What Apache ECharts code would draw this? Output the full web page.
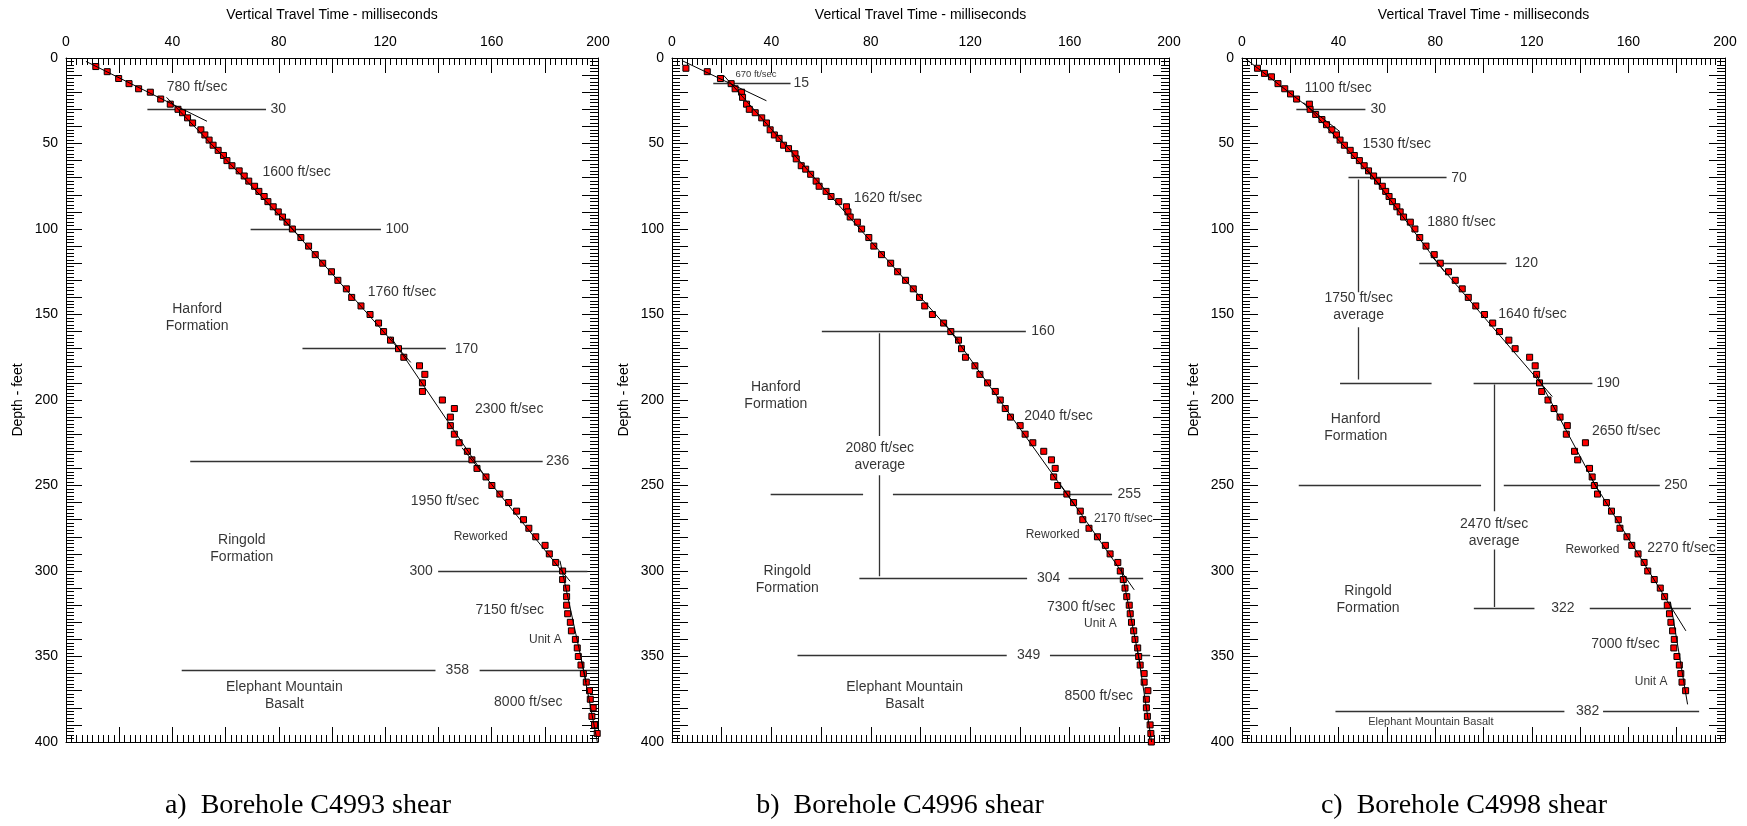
<!DOCTYPE html>
<html>
<head>
<meta charset="utf-8">
<script src="https://cdn.jsdelivr.net/npm/echarts@6.0.0/dist/echarts.min.js"></script>
<style>
html, body { margin: 0; padding: 0; background: #fff; }
#main { width: 1747px; height: 826px; }
</style>
</head>
<body>
<div id="main"></div>
<script>
// Borehole C4993 - depth (ft) and vertical travel time (ms)
var depthA = [5,8,12,15,18,20,24,27,30,32,35,38,42,45,48,51,54,57,60,63,66,69,72,75,78,81,84,87,90,93,96,100,
  105,110,115,120,125,130,135,140,145,150,155,160,165,170,175,180,185,190,195,200,205,210,215,220,225,230,235,240,
  245,250,255,260,265,270,275,280,285,290,295,300,305,310,315,320,325,330,335,340,345,350,355,360,365,370,375,380,
  385,390,395,400];
var timeA = [11.2,15.5,19.8,23.7,27.3,31.7,35.6,39.2,42.1,43.8,45.7,47.6,50.7,52.2,53.8,55.3,57.2,59.2,60.5,62.4,
  65.1,67,68.7,70.9,72.5,74.5,75.9,77.9,79.8,81.4,83.1,85.1,88.3,91.2,93.7,96.5,99.8,102.2,
  105.4,107.4,110.9,114.3,117.5,119.4,122,125,127,132.9,134.9,134,134,141.5,146,144.5,144.5,146,147.8,150.9,152.6,
  154.5,157.9,160.1,163.1,166.4,169.4,172,174,176.6,180.1,181.7,
  184.1,186.7,186.7,188.2,188.2,188.2,188.6,189.6,190,191.5,192.2,192.6,193.6,194.5,195.6,196.8,197.1,198.2,197.7,
  198.7,199.7,200.1];

// Borehole C4996
var depthB = [6,8,12,15,18,20,23,27,30,32,35,38,42,45,47,51,53,56,59,63,65,68,72,75,78,81,84,87,90,93,96,100,
  105,110,115,120,125,130,135,140,145,150,155,160,165,170,175,180,185,190,195,200,205,210,215,220,225,230,235,240,
  245,250,255,260,265,270,275,280,285,290,295,300,305,310,315,320,325,330,335,340,345,350,355,360,365,370,375,380,
  385,390,395,400];
var timeB = [5.6,14.2,19.5,23.8,25.4,28,28.4,30,31.1,33.5,36.1,38,39.5,41.2,43.1,44.9,46.9,49.5,50,52,53.8,55.8,
  58,59.2,62,64,67.1,70.2,70.8,71.7,74.6,76.3,79.2,81.2,84.3,88,90.8,
  94,97.1,99.6,101.7,104.8,109.3,112.2,115.3,116.5,118.1,121.9,123.9,127,130.1,132.1,134.1,136.2,140.1,142.1,145.2,
  149.6,152.7,154.2,153.6,155.2,158.9,161.6,164.3,165.3,167.8,171.2,174.4,176.3,
  179.4,180.4,181.6,182.3,183,184,184.4,184.9,185.8,186.3,187.4,187.8,188.4,190,190,191.5,190.9,190.9,191.3,192.4,
  192.7,192.9];

// Borehole C4998
var depthC = [6,9,11,15,18,21,24,27,30,33,36,39,42,45,48,51,54,57,60,63,66,69,72,75,78,81,84,87,90,93,96,100,
  105,110,115,120,125,130,135,140,145,150,155,160,165,170,175,180,185,190,195,200,205,210,215,220,225,230,235,240,
  245,250,255,260,265,270,275,280,285,290,295,300,305,310,315,320,325,330,335,340,345,350,355,360,365,370];
var timeC = [6.4,9.3,12.2,14.9,17.7,20.1,22.6,27.9,28.2,30.5,33.1,35,37.2,39.1,40.6,42.4,44.8,46.5,48.6,50.6,52.4,
  54.5,56.1,58.1,59.5,60.9,62.3,64.1,65.5,66.9,69.7,71.6,73.6,76.2,79.6,82.1,85.5,88.3,
  91.2,93.7,96.8,100.4,103.8,106.6,110.5,113.1,119.1,121.4,122,123.2,124.1,126.7,129.2,131.7,134.7,134.3,142.2,
  137.7,139,143.9,145,145.9,147.2,150.9,153,155.8,156.5,159.4,161.4,164,166.5,
  168,170.7,173.2,175,176.1,177,177.6,178.3,179,178.8,180.1,181.1,181.7,182.2,183.7];

// fitted velocity segments: [time0, depth0, time1, depth1]
var fitA = [[7.5,2,53,37],[37.8,23,88.2,105],[81.1,93,129.6,178],[122,163,156.8,243],
  [148.9,228,189.5,306],[185.7,294,195.6,365],[193.75,352,199.75,400]];
var fitB = [[4,1.5,38,25],[20.7,10,115.3,165],[109.7,155,162.3,262],[156.6,250,186,311],
  [180.7,298,188.6,356],[187.2,345,193,400]];
var fitC = [[1.5,0.5,40.5,43],[25.6,26,57.6,75],[51.8,65,83.8,125],[78,115,128.5,198],
  [121.9,185,148.3,255],[144.2,245,183.8,335],[177.4,318,184.5,378]];

// layer boundaries: [time from, time to, depth]
var boundA = [[30.6,75.2,30],[69.4,118.4,100],[88.9,142.8,170],[46.7,179.2,236],[139.9,196,300],
  [43.5,138.9,358],[155.5,199.7,358]];
var boundB = [[16.6,47.7,15],[60.3,142.4,160],[39.7,76.9,255],[88.9,177.1,255],[75.4,142.9,304],
  [159.6,189.6,304],[50.5,134.7,349],[152.1,192.4,349]];
var boundC = [[22.5,51.1,30],[44.1,84.7,70],[73.4,109.5,120],[40.6,78.5,190],[95.9,145.1,190],
  [23.5,99,250],[108.4,173,250],[96,121.1,322],[144,185.9,322],[38.7,133.5,382],[149.5,189.3,382]];

// average-velocity brackets: [time, depth from, depth to]
var vertA = [];
var vertB = [[83.6,161,221],[83.6,244,303]];
var vertC = [[48.3,71,137],[48.3,157.5,188],[104.4,191,265],[104.4,287.4,321]];

// annotations: [text, time, depth, font size]
var notesA = [['780 ft/sec',49.3,17,14],['30',79.8,30,14],['1600 ft/sec',86.7,66.6,14],['100',124.5,100,14],
  ['1760 ft/sec',126.3,136.8,14],['Hanford\nFormation',49.3,151.7,14],['170',150.5,170,14],
  ['2300 ft/sec',166.6,205.4,14],['236',184.8,236,14],['1950 ft/sec',142.5,259,14],['Reworked',155.9,280,12],
  ['Ringold\nFormation',66.1,287,14],['300',133.5,300,14],['7150 ft/sec',166.8,323,14],['Unit A',180.2,340.4,12],
  ['358',147.1,358,14],['Elephant Mountain\nBasalt',82.1,372.7,14],['8000 ft/sec',173.8,376.4,14]];
var notesB = [['670 ft/sec',33.8,9.7,9.5],['15',52,14.9,14],['1620 ft/sec',86.9,82,14],['160',149.3,160,14],
  ['Hanford\nFormation',41.8,197.7,14],['2040 ft/sec',155.5,209.2,14],['2080 ft/sec\naverage',83.6,233.4,14],
  ['255',184,255,14],['2170 ft/sec',181.6,269.6,12],['Reworked',153.2,278.5,12],['Ringold\nFormation',46.4,305,14],
  ['304',151.6,304,14],['7300 ft/sec',164.7,321,14],['Unit A',172.4,331,12],['349',143.5,349,14],
  ['Elephant Mountain\nBasalt',93.6,373.1,14],['8500 ft/sec',171.7,373,14]];
var notesC = [['1100 ft/sec',39.8,17.7,14],['30',56.4,30,14],['1530 ft/sec',64.1,50.6,14],['70',89.9,70,14],
  ['1880 ft/sec',90.9,96,14],['120',117.7,120,14],['1750 ft/sec\naverage',48.3,145.6,14],['1640 ft/sec',120.3,150,14],
  ['190',151.6,190,14],['Hanford\nFormation',47.1,216.4,14],['2650 ft/sec',159.1,218.5,14],['250',179.7,250,14],
  ['2470 ft/sec\naverage',104.4,277.5,14],['Reworked',145.1,287.4,12],['2270 ft/sec',182,286.5,14],
  ['Ringold\nFormation',52.2,316.8,14],['322',132.9,322,14],['7000 ft/sec',158.8,342.9,14],['Unit A',169.4,365,12],
  ['382',143.1,382,14],['Elephant Mountain Basalt',78.2,388.3,11]];

var captions = ['a)  Borehole C4993 shear', 'b)  Borehole C4996 shear', 'c)  Borehole C4998 shear'];

var FONT = '"Liberation Sans", Arial, sans-serif';
var panels = [
  {depth: depthA, time: timeA, fit: fitA, bound: boundA, vert: vertA, notes: notesA, left: 66, width: 532, cap: 308},
  {depth: depthB, time: timeB, fit: fitB, bound: boundB, vert: vertB, notes: notesB, left: 672, width: 497, cap: 900},
  {depth: depthC, time: timeC, fit: fitC, bound: boundC, vert: vertC, notes: notesC, left: 1242, width: 483, cap: 1464}
];

var black = {color: '#000', width: 1};

function xAxisFor(g, top) {
  return {
    type: 'value', gridIndex: g, position: top ? 'top' : 'bottom',
    min: 0, max: 200, interval: 20,
    name: top ? 'Vertical Travel Time - milliseconds' : '',
    nameLocation: 'middle', nameGap: 36,
    nameTextStyle: {fontFamily: FONT, fontSize: 14, color: '#000'},
    axisLine: {show: true, onZero: false, lineStyle: black},
    axisTick: {show: true, inside: true, length: 15, lineStyle: black},
    minorTick: {show: true, splitNumber: 10, length: 7, lineStyle: black},
    axisLabel: {show: top, margin: 9, fontFamily: FONT, fontSize: 14, color: '#000',
      formatter: function (v) { return v % 40 === 0 ? String(v) : ''; }},
    splitLine: {show: false}
  };
}

function yAxisFor(g, left) {
  return {
    type: 'value', gridIndex: g, position: left ? 'left' : 'right', inverse: true,
    min: 0, max: 400, interval: 10,
    name: left ? 'Depth - feet' : '',
    nameLocation: 'middle', nameGap: 41, nameRotate: 90,
    nameTextStyle: {fontFamily: FONT, fontSize: 14, color: '#000'},
    axisLine: {show: true, onZero: false, lineStyle: black},
    axisTick: {show: true, inside: true, length: 16, lineStyle: black},
    minorTick: {show: true, splitNumber: 5, length: 8, lineStyle: black},
    axisLabel: {show: left, margin: 8, fontFamily: FONT, fontSize: 14, color: '#000',
      formatter: function (v) { return v % 50 === 0 ? String(v) : ''; }},
    splitLine: {show: false}
  };
}

var grid = [], xAxis = [], yAxis = [], series = [], graphic = [];

panels.forEach(function (p, g) {
  grid.push({left: p.left, top: 58, width: p.width, height: 684});
  xAxis.push(xAxisFor(g, true), xAxisFor(g, false));
  yAxis.push(yAxisFor(g, true), yAxisFor(g, false));
  var ax = {xAxisIndex: 2 * g, yAxisIndex: 2 * g};

  series.push(Object.assign({
    type: 'lines', coordinateSystem: 'cartesian2d', silent: true, z: 2,
    lineStyle: {color: '#333', width: 1.3, opacity: 1, curveness: 0},
    data: p.bound.map(function (b) { return {coords: [[b[0], b[2]], [b[1], b[2]]]}; })
      .concat(p.vert.map(function (v) { return {coords: [[v[0], v[1]], [v[0], v[2]]]}; }))
  }, ax));

  series.push(Object.assign({
    type: 'scatter', silent: true, z: 3,
    symbol: 'rect', symbolSize: 6,
    itemStyle: {color: '#ff0000', borderColor: '#000', borderWidth: 1, opacity: 1},
    data: p.depth.map(function (d, k) { return [p.time[k], d]; })
  }, ax));

  series.push(Object.assign({
    type: 'lines', coordinateSystem: 'cartesian2d', silent: true, z: 4,
    lineStyle: {color: '#000', width: 1, opacity: 1, curveness: 0},
    data: p.fit.map(function (f) { return {coords: [[f[0], f[1]], [f[2], f[3]]]}; })
  }, ax));

  series.push(Object.assign({
    type: 'scatter', silent: true, z: 5,
    symbolSize: 1, itemStyle: {color: 'rgba(0,0,0,0)'},
    label: {show: true, position: 'inside', formatter: '{b}', fontFamily: FONT, color: '#000',
      lineHeight: 17, align: 'center', verticalAlign: 'middle'},
    data: p.notes.map(function (n) {
      return {name: n[0], value: [n[1], n[2]], label: {fontSize: n[3], lineHeight: n[3] + 3}};
    })
  }, ax));

  graphic.push({
    type: 'text', silent: true,
    style: {x: p.cap, y: 806, text: captions[g], fill: '#000',
      font: '28px "Liberation Serif", "Times New Roman", serif',
      align: 'center', verticalAlign: 'middle', textAlign: 'center', textVerticalAlign: 'middle'}
  });
});

var chart = echarts.init(document.getElementById('main'), null, {renderer: 'canvas'});
chart.setOption({
  animation: false,
  backgroundColor: '#fff',
  grid: grid,
  xAxis: xAxis,
  yAxis: yAxis,
  series: series,
  graphic: graphic
});
</script>
</body>
</html>
